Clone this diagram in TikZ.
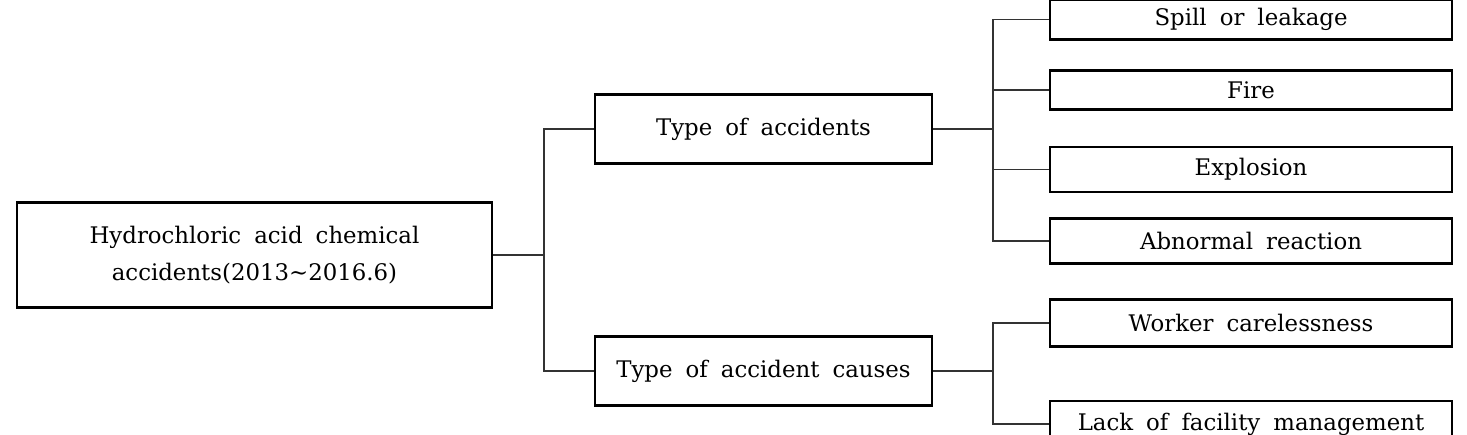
\documentclass[tikz,border=0pt]{standalone}
\usepackage{fontspec}
\setmainfont{DejaVu Serif}[WordSpace=1.8]
\usepackage{tikz}

\tikzset{
  box/.style={draw, line width=1.6pt, inner sep=0pt, align=center, text=black,
    font=\fontsize{13}{21}\selectfont},
  leaf/.style={box, minimum width=8.04cm},
  mid/.style={box, minimum width=6.74cm, minimum height=1.37cm},
  link/.style={line width=0.8pt, black!80}
}

\begin{document}
\begin{tikzpicture}[x=0.02cm, y=-0.02cm]
  \useasboundingbox (0,0) rectangle (1467,434);

  \node[box, minimum width=9.5cm, minimum height=2.1cm] (root) at (254.5,255)
    {Hydrochloric acid chemical\\accidents(2013\textasciitilde 2016.6)};

  \node[mid] (acc) at (763.5,129) {Type of accidents};
  \node[mid] (cause) at (763.5,371) {Type of accident causes};

  \node[leaf, minimum height=0.80cm] (spill) at (1251,19.5) {Spill or leakage};
  \node[leaf, minimum height=0.78cm] (fire) at (1251,90) {Fire};
  \node[leaf, minimum height=0.90cm] (expl) at (1251,169.5) {Explosion};
  \node[leaf, minimum height=0.90cm] (abn) at (1251,241) {Abnormal reaction};
  \node[leaf, minimum height=0.94cm] (worker) at (1251,323) {Worker carelessness};
  \node[leaf, minimum height=0.92cm] (lack) at (1251,424) {Lack of facility management};

  \coordinate (bus1) at (544,255);
  \coordinate (bus2) at (993,129);
  \coordinate (bus3) at (993,371);

  \draw[link] (root.east) -- (bus1);
  \draw[link] (bus1) |- (acc.west);
  \draw[link] (bus1) |- (cause.west);

  \draw[link] (acc.east) -- (bus2);
  \foreach \n in {spill, fire, expl, abn}
    \draw[link] (bus2) |- (\n.west);

  \draw[link] (cause.east) -- (bus3);
  \foreach \n in {worker, lack}
    \draw[link] (bus3) |- (\n.west);
\end{tikzpicture}
\end{document}
